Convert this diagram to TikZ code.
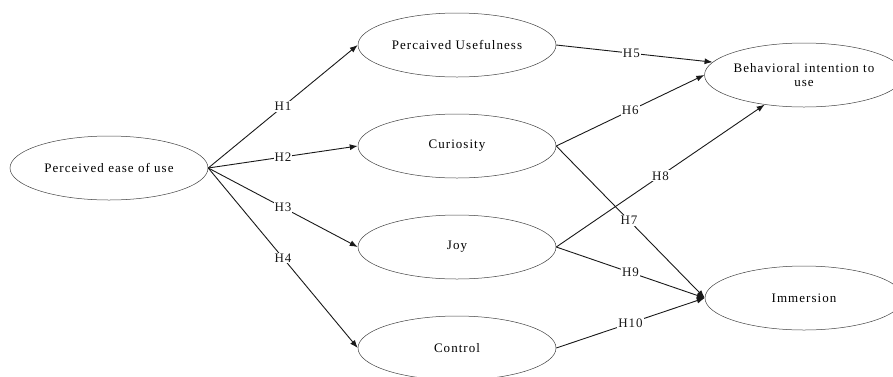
\documentclass[tikz,border=0pt]{standalone}
\usepackage{fontspec}
\setmainfont[LetterSpace=8]{Liberation Serif}
\usetikzlibrary{shapes.geometric}
\usetikzlibrary{arrows.meta}

\begin{document}
\begin{tikzpicture} [x=1pt,y=-1pt,
  construct/.style={ellipse,draw=black!75,line width=.5pt,minimum width=198pt,minimum height=64pt,inner sep=0pt,align=center,font=\fontsize{13}{14}\selectfont},
  hyp/.style={black!90,line width=.9pt,-{Latex[length=8pt,width=6pt]}},
  hlabel/.style={fill=white,inner sep=1pt,font=\fontsize{13}{14}\selectfont}]

\useasboundingbox (0,0) rectangle (893,376);

\node[construct] (peou) at (109,168) {Perceived ease of use};
\node[construct] (pu) at (457,45) {Percaived Usefulness};
\node[construct] (cur) at (457,146) {Curiosity};
\node[construct] (joy) at (457,247) {Joy};
\node[construct] (ctrl) at (457,348) {Control};
\node[construct] (bi) at (804,75) {Behavioral intention to\\use};
\node[construct] (imm) at (804,298) {Immersion};

\draw[hyp] (peou.east) --(pu.west) node[hlabel,midway] {H1};
\draw[hyp] (peou.east) --(cur.west) node[hlabel,midway] {H2};
\draw[hyp] (peou.east) --(joy.west) node[hlabel,midway] {H3};
\draw[hyp] (peou.east) --(ctrl.west) node[hlabel,midway] {H4};

\draw[hyp] (pu.east) --(bi.172) node[hlabel,midway,xshift=-3] {H5};
\draw[hyp] (cur.east) --(bi.west) node[hlabel,midway] {H6};
\draw[hyp] (cur.east) --(imm.west) node[hlabel,pos=.49] {H7};
\draw[hyp] (joy.east) --(bi.217) node[hlabel,midway] {H8};
\draw[hyp] (joy.east) --(imm.west) node[hlabel,midway] {H9};
\draw[hyp] (ctrl.east) --(imm.west) node[hlabel,midway] {H10};

\end{tikzpicture}
\end{document}
